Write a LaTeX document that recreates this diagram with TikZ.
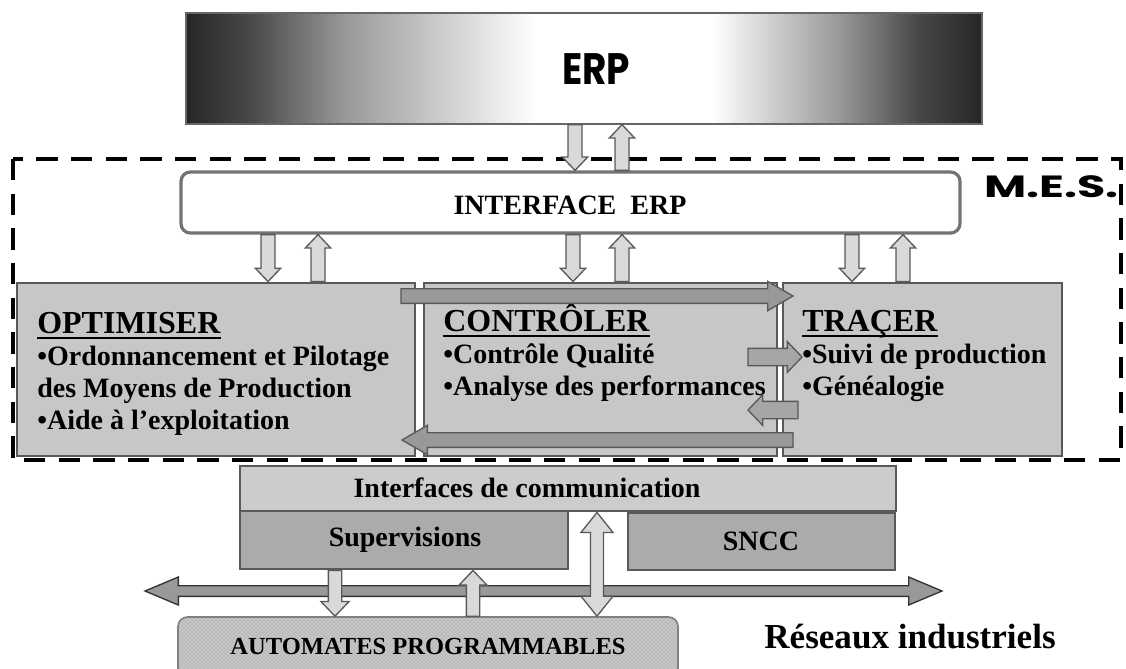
\documentclass[tikz,border=0pt]{standalone}
\usepackage{fontspec}
\setmainfont{Liberation Serif}
\newfontfamily\roundfont{Poppins}
\usetikzlibrary{calc,fit,patterns,positioning}

\pgfdeclarehorizontalshading{erpshade}{100bp}{color(0bp)=(black!85); color(25bp)=(black!85);
  color(29bp)=(black!72); color(35bp)=(black!40); color(47bp)=(white); color(58bp)=(white);
  color(66bp)=(black!40); color(71bp)=(black!72); color(75bp)=(black!85); color(100bp)=(black!85)}

\begin{document}
\begin{tikzpicture}[x=0.75pt, y=-0.75pt,
    box/.style={draw=black!65, line width=2.2pt, fill=black!22, inner sep=0pt},
    lbl/.style={font=\bfseries\fontsize{21}{24}\selectfont, inner sep=0pt},
    ttl/.style={font=\bfseries\fontsize{24}{28}\selectfont, inner sep=0pt, anchor=base west},
    itm/.style={font=\bfseries\fontsize{21}{24}\selectfont, inner sep=0pt, anchor=base west},
    uline/.style={line width=1.8pt},
    aw/.store in=\arrw, ahw/.store in=\arrhw, ahl/.store in=\arrhl,
    aw=5.25pt, ahw=9.5pt, ahl=10pt,
    blk/.style={draw=black!65, fill=black!15, line width=1pt, line join=miter,
      to path={let \p1=(\tikztostart), \p2=(\tikztotarget), \p3=($(\p2)!\arrhl!(\p1)$) in
        ($(\p1)!\arrw!90:(\p2)$) -- ($(\p3)!\arrw!90:(\p2)$) -- ($(\p3)!\arrhw!90:(\p2)$)
        -- (\p2) -- ($(\p3)!\arrhw!-90:(\p2)$) -- ($(\p3)!\arrw!-90:(\p2)$)
        -- ($(\p1)!\arrw!-90:(\p2)$) -- cycle}},
    dblk/.style={blk,
      to path={let \p1=(\tikztostart), \p2=(\tikztotarget), \p3=($(\p2)!\arrhl!(\p1)$),
        \p4=($(\p1)!\arrhl!(\p2)$) in
        (\p1) -- ($(\p4)!\arrhw!90:(\p2)$) -- ($(\p4)!\arrw!90:(\p2)$) -- ($(\p3)!\arrw!90:(\p2)$)
        -- ($(\p3)!\arrhw!90:(\p2)$) -- (\p2) -- ($(\p3)!\arrhw!-90:(\p2)$)
        -- ($(\p3)!\arrw!-90:(\p2)$) -- ($(\p4)!\arrw!-90:(\p2)$) -- ($(\p4)!\arrhw!-90:(\p2)$)
        -- cycle}}]
\clip (0,0) rectangle (1126,668);

% ERP and its interface
\node[draw=black!60, line width=1pt, shade, shading=erpshade, inner sep=0pt,
  fit={(186,13) (982,124)}] (erp) {};
\node[font=\roundfont\bfseries\fontsize{33}{38}\selectfont, xscale=0.85, transform shape]
  (erptxt) at (596,69) {ERP};
\node[draw=black!55, line width=2.4pt, fill=white, rounded corners=7pt, inner sep=0pt,
  fit={(181,172) (960,233)}] (iface) {};
\node[font=\bfseries\fontsize{21}{24}\selectfont] (ifacetxt) at (570,205) {INTERFACE\ \ ERP};

% M.E.S. frame
\draw[line width=3.4pt, dash pattern=on 16pt off 10pt] (13,159) rectangle (1121,460);
\node[font=\roundfont\bfseries\fontsize{23}{26}\selectfont, inner sep=0pt,
  anchor=base east, xscale=1.5, transform shape] (mes) at (1119,197) {M.E.S.};

% the three modules
\node[box, fit={(17,283) (415,456)}] (opt) {};
\node[box, fit={(424,283) (777,456)}] (ctl) {};
\node[box, fit={(783,283) (1062,456)}] (trc) {};

\node[ttl] (optT) at (37,333) {OPTIMISER};
\foreach \t [count=\i] in {{•Ordonnancement et Pilotage},{des Moyens de Production},{•Aide à l’exploitation}}
  \node[itm] (opt\i) at (37,333+32*\i) {\t};
\node[ttl] (ctlT) at (443,331) {CONTRÔLER};
\foreach \t [count=\i] in {{•Contrôle Qualité},{•Analyse des performances}}
  \node[itm] (ctl\i) at (443,331+32*\i) {\t};
\node[ttl] (trcT) at (802,331) {TRAÇER};
\foreach \t [count=\i] in {{•Suivi de production},{•Généalogie}}
  \node[itm] (trc\i) at (802,331+32*\i) {\t};
\foreach \n in {optT,ctlT,trcT}
  \draw[uline] ([yshift=-3.6pt]\n.base west) -- ([yshift=-3.6pt]\n.base east);

% arrows ERP <-> interface <-> modules
\draw[blk] (erp.south -| 575,0) to (iface.north -| 575,0);
\draw[blk] (iface.north -| 622,0) to (erp.south -| 622,0);
\foreach \xd/\xu/\m in {268/318/opt, 573/622/ctl, 852/903/trc} {
  \draw[blk] (iface.south -| \xd,0) to (\m.north -| \xd,0);
  \draw[blk] (\m.north -| \xu,0) to (iface.south -| \xu,0);
}

% flows through CONTROLER
\coordinate (flowA) at (401,296);
\coordinate (flowB) at (793,296);
\coordinate (flowC) at (793,440);
\coordinate (flowD) at (402,440);
\draw[blk, fill=black!40, aw=5.5pt, ahw=11pt, ahl=19pt] (flowA) to (flowB);
\draw[blk, fill=black!40, aw=5.5pt, ahw=11pt, ahl=19pt] (flowC) to (flowD);
\draw[blk, fill=black!35, aw=6.5pt, ahw=11.5pt, ahl=11pt] (748,357) to (trc1.west |- 0,357);
\draw[blk, fill=black!35, aw=6.5pt, ahw=11.5pt, ahl=11pt] (798,410) to (748,410);

% field level
\node[box, fill=black!20, fit={(240,466) (896,511)}] (icom) {};
\node[lbl] (icomtxt) at (527,488) {Interfaces de communication};
\node[box, fill=black!33, fit={(240,511) (568,569)}] (sup) {};
\node[lbl] (suptxt) at (405,540) {Supervisions};
\node[box, fill=black!33, fit={(628,513) (895,570)}] (sncc) {};
\node[lbl] (sncctxt) at (761,541) {SNCC};

\node[draw=black!50, line width=1.2pt, fill=black!22, rounded corners=7pt, inner sep=0pt,
  postaction={pattern=crosshatch dots, pattern color=black!45},
  fit={(178,617) (678,690)}] (auto) {};
\node[font=\bfseries\fontsize{18.4}{22}\selectfont] (autotxt) at (428,646) {AUTOMATES PROGRAMMABLES};

\coordinate (netL) at (145,591);
\coordinate (netR) at (942,591);
\draw[dblk, fill=black!40, draw=black!80, aw=4pt, ahw=10.5pt, ahl=25pt] (netL) to (netR);
\node[font=\bfseries\fontsize{26.3}{30}\selectfont] (net) at (910,637) {Réseaux industriels};

\draw[blk, aw=5pt, ahw=10.5pt, ahl=11pt] (sup.south -| 335,0) to (auto.north -| 335,0);
\draw[blk, aw=5pt, ahw=10.5pt, ahl=11pt] (auto.north -| 473,0) to (sup.south -| 473,0);
\draw[dblk, aw=4.9pt, ahw=12pt, ahl=15pt] (icom.south -| 597,0) to (auto.north -| 597,0);
\end{tikzpicture}
\end{document}
